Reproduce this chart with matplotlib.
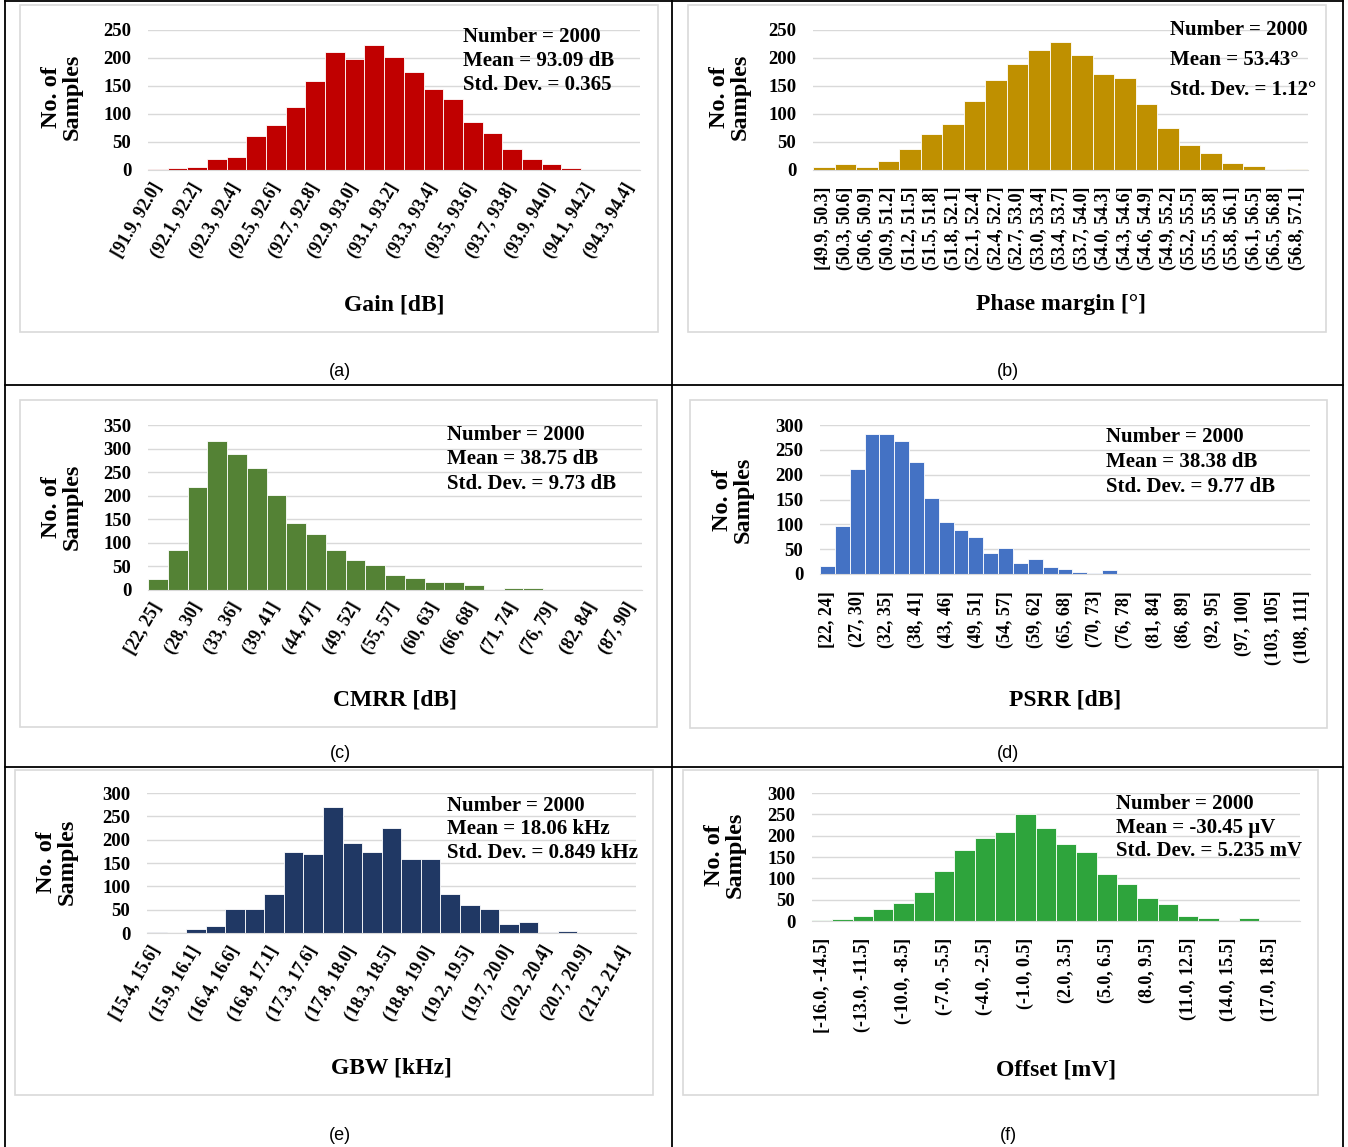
import matplotlib
matplotlib.use("Agg")
import matplotlib.pyplot as plt
import numpy as np
from matplotlib.lines import Line2D
from matplotlib.patches import Rectangle

W, H = 1348, 1147

# ---- data ----
gain_counts = [2, 4, 5, 19, 23, 60, 80, 113, 159, 210, 198, 223, 202, 175, 145,
               126, 86, 66, 38, 20, 11, 3, 0, 0, 0]
gain_ticks = ["[91.9, 92.0]", "(92.1, 92.2]", "(92.3, 92.4]", "(92.5, 92.6]",
              "(92.7, 92.8]", "(92.9, 93.0]", "(93.1, 93.2]", "(93.3, 93.4]",
              "(93.5, 93.6]", "(93.7, 93.8]", "(93.9, 94.0]", "(94.1, 94.2]",
              "(94.3, 94.4]"]

pm_counts = [5, 10, 5, 16, 38, 64, 82, 124, 161, 189, 215, 229, 205, 171, 165,
             118, 75, 45, 30, 12, 7, 0, 1]
pm_ticks = ["[49.9, 50.3]", "(50.3, 50.6]", "(50.6, 50.9]", "(50.9, 51.2]",
            "(51.2, 51.5]", "(51.5, 51.8]", "(51.8, 52.1]", "(52.1, 52.4]",
            "(52.4, 52.7]", "(52.7, 53.0]", "(53.0, 53.4]", "(53.4, 53.7]",
            "(53.7, 54.0]", "(54.0, 54.3]", "(54.3, 54.6]", "(54.6, 54.9]",
            "(54.9, 55.2]", "(55.2, 55.5]", "(55.5, 55.8]", "(55.8, 56.1]",
            "(56.1, 56.5]", "(56.5, 56.8]", "(56.8, 57.1]"]

cmrr_counts = [23, 85, 219, 317, 289, 258, 201, 143, 119, 85, 64, 52, 32, 26,
               16, 16, 10, 0, 5, 5, 0, 0, 0, 0, 0]
cmrr_ticks = ["[22, 25]", "(28, 30]", "(33, 36]", "(39, 41]", "(44, 47]",
              "(49, 52]", "(55, 57]", "(60, 63]", "(66, 68]", "(71, 74]",
              "(76, 79]", "(82, 84]", "(87, 90]"]

psrr_counts = [16, 97, 212, 281, 281, 268, 225, 153, 104, 88, 74, 43, 52, 23,
               31, 15, 11, 4, 2, 9, 0, 0, 0, 0, 0, 0, 0, 0, 0, 0, 0, 0, 0]
psrr_ticks = ["[22, 24]", "(27, 30]", "(32, 35]", "(38, 41]", "(43, 46]",
              "(49, 51]", "(54, 57]", "(59, 62]", "(65, 68]", "(70, 73]",
              "(76, 78]", "(81, 84]", "(86, 89]", "(92, 95]", "(97, 100]",
              "(103, 105]", "(108, 111]"]

gbw_counts = [3, 0, 8, 16, 51, 52, 84, 173, 169, 269, 192, 173, 224, 158, 158,
              84, 61, 52, 19, 24, 2, 5, 0, 0, 0]
gbw_ticks = ["[15.4, 15.6]", "(15.9, 16.1]", "(16.4, 16.6]", "(16.8, 17.1]",
             "(17.3, 17.6]", "(17.8, 18.0]", "(18.3, 18.5]", "(18.8, 19.0]",
             "(19.2, 19.5]", "(19.7, 20.0]", "(20.2, 20.4]", "(20.7, 20.9]",
             "(21.2, 21.4]"]

offset_counts = [2, 5, 12, 28, 43, 69, 118, 167, 195, 208, 250, 219, 181, 161,
                 110, 87, 54, 40, 12, 7, 0, 6, 0, 0]
offset_ticks = ["[-16.0, -14.5]", "(-13.0, -11.5]", "(-10.0, -8.5]",
                "(-7.0, -5.5]", "(-4.0, -2.5]", "(-1.0, 0.5]", "(2.0, 3.5]",
                "(5.0, 6.5]", "(8.0, 9.5]", "(11.0, 12.5]", "(14.0, 15.5]",
                "(17.0, 18.5]"]

gain_stats = ["Number = 2000", "Mean = 93.09 dB", "Std. Dev. = 0.365"]
pm_stats = ["Number = 2000", "Mean = 53.43°", "Std. Dev. = 1.12°"]
cmrr_stats = ["Number = 2000", "Mean = 38.75 dB", "Std. Dev. = 9.73 dB"]
psrr_stats = ["Number = 2000", "Mean = 38.38 dB", "Std. Dev. = 9.77 dB"]
gbw_stats = ["Number = 2000", "Mean = 18.06 kHz", "Std. Dev. = 0.849 kHz"]
offset_stats = ["Number = 2000", "Mean = -30.45 µV", "Std. Dev. = 5.235 mV"]

panels = [
    dict(c=gain_counts, t=gain_ticks, step=2, rot=60, col="#C00000", ymax=250,
         xl="Gain [dB]", st=gain_stats, cap="(a)",
         ax=(148, 640, 30, 170), box=(20, 658, 5, 332), yl=(62, 97), xly=305,
         sp=(463, 37, 24), cp=(340, 371)),
    dict(c=pm_counts, t=pm_ticks, step=1, rot=90, col="#BF9000", ymax=250,
         xl="Phase margin [°]", st=pm_stats, cap="(b)",
         ax=(813, 1308, 30, 170), box=(688, 1326, 5, 332), yl=(730, 97), xly=305,
         sp=(1170, 30, 30), cp=(1008, 371)),
    dict(c=cmrr_counts, t=cmrr_ticks, step=2, rot=60, col="#548235", ymax=350,
         xl="CMRR [dB]", st=cmrr_stats, cap="(c)",
         ax=(148, 642, 425, 590), box=(20, 657, 400, 727), yl=(62, 507), xly=700,
         sp=(447, 435, 24.5), cp=(340, 753)),
    dict(c=psrr_counts, t=psrr_ticks, step=2, rot=90, col="#4472C4", ymax=300,
         xl="PSRR [dB]", st=psrr_stats, cap="(d)",
         ax=(820, 1310, 425, 574), box=(690, 1327, 400, 728), yl=(733, 500), xly=700,
         sp=(1106, 437, 25), cp=(1008, 753)),
    dict(c=gbw_counts, t=gbw_ticks, step=2, rot=60, col="#203864", ymax=300,
         xl="GBW [kHz]", st=gbw_stats, cap="(e)",
         ax=(147, 636, 793, 933), box=(15, 653, 770, 1095), yl=(57, 862), xly=1068,
         sp=(447, 806, 23.5), cp=(340, 1135)),
    dict(c=offset_counts, t=offset_ticks, step=2, rot=90, col="#2EA43C", ymax=300,
         xl="Offset [mV]", st=offset_stats, cap="(f)",
         ax=(812, 1300, 793, 921), box=(683, 1318, 770, 1095), yl=(725, 855), xly=1070,
         sp=(1116, 804, 23.5), cp=(1008, 1135)),
]

SERIF = "Liberation Serif"
GRID = "#D9D9D9"

fig = plt.figure(figsize=(W / 100, H / 100), dpi=100)


def fx(x):
    return x / W


def fy(y):
    return 1 - y / H


for p in panels:
    x0, x1, yt, yb = p["ax"]
    ax = fig.add_axes([fx(x0), fy(yb), (x1 - x0) / W, (yb - yt) / H])
    n = len(p["c"])
    ax.bar(np.arange(n), p["c"], width=1.0, color=p["col"],
           edgecolor="white", linewidth=0.6, zorder=2)
    ax.set_xlim(-0.5, n - 0.5)
    ax.set_ylim(0, p["ymax"])
    ax.set_yticks(np.arange(0, p["ymax"] + 1, 50))
    ax.yaxis.grid(True, color=GRID, linewidth=1.0, zorder=0)
    ax.set_axisbelow(True)
    for s in ["top", "right", "left"]:
        ax.spines[s].set_visible(False)
    ax.spines["bottom"].set_color(GRID)
    ax.tick_params(length=0)
    ax.tick_params(axis="y", pad=12)
    for lab in ax.get_yticklabels():
        lab.set_fontfamily(SERIF)
        lab.set_fontweight("bold")
        lab.set_fontsize(13.5)
    pos = np.arange(0, n, p["step"])[:len(p["t"])]
    ax.set_xticks(pos)
    if p["rot"] == 60:
        ax.set_xticklabels(p["t"], rotation=60, ha="right", va="center",
                           rotation_mode="anchor", fontfamily=SERIF,
                           fontweight="bold", fontsize=13)
        ax.tick_params(axis="x", pad=10)
        for lab in ax.get_xticklabels():
            lab.set_x(lab.get_position()[0])
    else:
        ax.set_xticklabels(p["t"], rotation=90, ha="center", va="top",
                           fontfamily=SERIF, fontweight="bold", fontsize=13)
        ax.tick_params(axis="x", pad=12)

    bx0, bx1, by0, by1 = p["box"]
    fig.add_artist(Rectangle((fx(bx0), fy(by1)), (bx1 - bx0) / W, (by1 - by0) / H,
                             transform=fig.transFigure, fill=False,
                             edgecolor=GRID, linewidth=1.2))
    fig.text(fx(p["yl"][0]), fy(p["yl"][1]), "No. of\nSamples", rotation=90,
             ha="center", va="center", multialignment="center",
             fontfamily=SERIF, fontweight="bold", fontsize=17.5, linespacing=1.0)
    fig.text(fx((x0 + x1) / 2), fy(p["xly"]), p["xl"], ha="center", va="center",
             fontfamily=SERIF, fontweight="bold", fontsize=17)
    sx, sy, dy = p["sp"]
    for i, line in enumerate(p["st"]):
        fig.text(fx(sx), fy(sy + i * dy), line, ha="left", va="center",
                 fontfamily=SERIF, fontweight="bold", fontsize=15)
    fig.text(fx(p["cp"][0]), fy(p["cp"][1]), p["cap"], ha="center", va="center",
             fontfamily="Liberation Sans", fontsize=13)

# table lines around the six cells
for x in [5, 672, 1343]:
    fig.add_artist(Line2D([fx(x), fx(x)], [fy(1), fy(1147)], color="black",
                          linewidth=1.3, transform=fig.transFigure))
for y in [1, 385, 767]:
    fig.add_artist(Line2D([fx(5), fx(1343)], [fy(y), fy(y)], color="black",
                          linewidth=1.3, transform=fig.transFigure))

fig.savefig("out.png", dpi=100)
